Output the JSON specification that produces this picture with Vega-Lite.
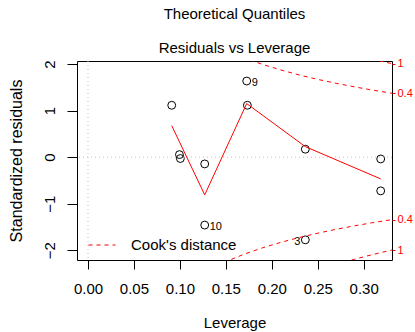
{
  "$schema": "https://vega.github.io/schema/vega-lite/v6.json",
  "width": 315,
  "height": 199,
  "autosize": {"type": "none"},
  "padding": {"left": 77, "top": 61, "right": 23, "bottom": 72},
  "background": "white",
  "config": {
    "font": "Liberation Sans",
    "view": {"stroke": "#000", "strokeWidth": 1},
    "axis": {"labelFont": "Liberation Sans", "titleFont": "Liberation Sans", "labelColor": "#000", "titleColor": "#000", "tickColor": "#000", "grid": false, "domain": false, "titleFontWeight": "normal"},
    "axisX": {"values": [0, 0.05, 0.1, 0.15, 0.2, 0.25, 0.3], "format": ".2f", "tickSize": 9, "labelPadding": 12, "labelFontSize": 15, "titleFontSize": 15, "titlePadding": 19, "labelFlush": false, "labelOverlap": false}
  },
  "title": {
    "text": "Theoretical Quantiles",
    "subtitle": "Residuals vs Leverage",
    "fontSize": 15,
    "subtitleFontSize": 15,
    "fontWeight": "normal",
    "color": "#000",
    "subtitleColor": "#000",
    "font": "Liberation Sans",
    "subtitleFont": "Liberation Sans",
    "anchor": "middle",
    "subtitlePadding": 19,
    "offset": 2
  },
  "datasets": {
    "pts": [
      {"lev": 0.0911, "res": 1.114, "label": ""},
      {"lev": 0.0995, "res": 0.054, "label": ""},
      {"lev": 0.1005, "res": -0.03, "label": ""},
      {"lev": 0.127, "res": -0.146, "label": ""},
      {"lev": 0.127, "res": -1.46, "label": "10", "side": "R"},
      {"lev": 0.1727, "res": 1.635, "label": "9", "side": "R"},
      {"lev": 0.1734, "res": 1.114, "label": ""},
      {"lev": 0.2365, "res": 0.17, "label": ""},
      {"lev": 0.2365, "res": -1.777, "label": "3", "side": "L"},
      {"lev": 0.3185, "res": -0.039, "label": ""},
      {"lev": 0.3185, "res": -0.725, "label": ""}
    ],
    "smooth": [
      {"lev": 0.0911, "res": 0.676},
      {"lev": 0.127, "res": -0.81},
      {"lev": 0.1727, "res": 1.15},
      {"lev": 0.2365, "res": 0.225},
      {"lev": 0.3185, "res": -0.468}
    ],
    "cook": [
      {"lev": 0.16, "res": 2.21, "curve": "u04", "series": "Cook's distance"},
      {"lev": 0.17, "res": 2.131, "curve": "u04", "series": "Cook's distance"},
      {"lev": 0.19, "res": 1.991, "curve": "u04", "series": "Cook's distance"},
      {"lev": 0.21, "res": 1.871, "curve": "u04", "series": "Cook's distance"},
      {"lev": 0.23, "res": 1.764, "curve": "u04", "series": "Cook's distance"},
      {"lev": 0.25, "res": 1.67, "curve": "u04", "series": "Cook's distance"},
      {"lev": 0.27, "res": 1.586, "curve": "u04", "series": "Cook's distance"},
      {"lev": 0.29, "res": 1.509, "curve": "u04", "series": "Cook's distance"},
      {"lev": 0.31, "res": 1.439, "curve": "u04", "series": "Cook's distance"},
      {"lev": 0.3308, "res": 1.372, "curve": "u04", "series": "Cook's distance"},
      {"lev": 0.14, "res": -2.338, "curve": "l04", "series": "Cook's distance"},
      {"lev": 0.15, "res": -2.246, "curve": "l04", "series": "Cook's distance"},
      {"lev": 0.17, "res": -2.084, "curve": "l04", "series": "Cook's distance"},
      {"lev": 0.19, "res": -1.948, "curve": "l04", "series": "Cook's distance"},
      {"lev": 0.21, "res": -1.83, "curve": "l04", "series": "Cook's distance"},
      {"lev": 0.23, "res": -1.726, "curve": "l04", "series": "Cook's distance"},
      {"lev": 0.25, "res": -1.634, "curve": "l04", "series": "Cook's distance"},
      {"lev": 0.27, "res": -1.551, "curve": "l04", "series": "Cook's distance"},
      {"lev": 0.29, "res": -1.476, "curve": "l04", "series": "Cook's distance"},
      {"lev": 0.31, "res": -1.407, "curve": "l04", "series": "Cook's distance"},
      {"lev": 0.3308, "res": -1.343, "curve": "l04", "series": "Cook's distance"},
      {"lev": 0.3, "res": 2.155, "curve": "u1", "series": "Cook's distance"},
      {"lev": 0.31, "res": 2.105, "curve": "u1", "series": "Cook's distance"},
      {"lev": 0.32, "res": 2.056, "curve": "u1", "series": "Cook's distance"},
      {"lev": 0.3308, "res": 2.007, "curve": "u1", "series": "Cook's distance"},
      {"lev": 0.27, "res": -2.306, "curve": "l1", "series": "Cook's distance"},
      {"lev": 0.28, "res": -2.249, "curve": "l1", "series": "Cook's distance"},
      {"lev": 0.29, "res": -2.195, "curve": "l1", "series": "Cook's distance"},
      {"lev": 0.3, "res": -2.142, "curve": "l1", "series": "Cook's distance"},
      {"lev": 0.31, "res": -2.092, "curve": "l1", "series": "Cook's distance"},
      {"lev": 0.32, "res": -2.045, "curve": "l1", "series": "Cook's distance"},
      {"lev": 0.3308, "res": -1.996, "curve": "l1", "series": "Cook's distance"}
    ]
  },
  "resolve": {"axis": {"y": "independent"}},
  "layer": [
    {
      "data": {"name": "pts"},
      "mark": {"type": "point", "shape": "circle", "filled": false, "stroke": "#000", "strokeWidth": 1, "size": 62, "opacity": 1},
      "encoding": {
        "x": {"field": "lev", "type": "quantitative", "scale": {"domain": [-0.01197, 0.3308], "nice": false, "zero": false},
          "axis": {"title": "Leverage"}},
        "y": {"field": "res", "type": "quantitative", "scale": {"domain": [-2.21, 2.065], "nice": false, "zero": false},
          "axis": {"orient": "left", "values": [-2, -1, 0, 1, 2], "format": "d", "tickSize": 10, "labelAngle": -90, "labelAlign": "center", "labelBaseline": "bottom", "labelPadding": 10, "labelFontSize": 15, "title": "Standardized residuals", "titleFontSize": 16, "titlePadding": 18, "labelFlush": false, "labelOverlap": false}}
      }
    },
    {
      "data": {"values": [{"v": 0}]},
      "mark": {"type": "rule", "color": "#bebebe", "strokeDash": [1, 3], "strokeWidth": 1},
      "encoding": {"y": {"field": "v", "type": "quantitative", "axis": null}}
    },
    {
      "data": {"values": [{"v": 0}]},
      "mark": {"type": "rule", "color": "#bebebe", "strokeDash": [1, 3], "strokeWidth": 1},
      "encoding": {"x": {"field": "v", "type": "quantitative"}}
    },
    {
      "data": {"name": "pts"},
      "transform": [{"filter": "datum.side == 'R'"}],
      "mark": {"type": "text", "align": "left", "baseline": "middle", "dx": 5, "dy": 1.5, "fontSize": 11, "color": "#000"},
      "encoding": {
        "x": {"field": "lev", "type": "quantitative"},
        "y": {"field": "res", "type": "quantitative", "axis": null},
        "text": {"field": "label"}
      }
    },
    {
      "data": {"name": "pts"},
      "transform": [{"filter": "datum.side == 'L'"}],
      "mark": {"type": "text", "align": "right", "baseline": "middle", "dx": -5, "dy": 2, "fontSize": 11, "color": "#000"},
      "encoding": {
        "x": {"field": "lev", "type": "quantitative"},
        "y": {"field": "res", "type": "quantitative", "axis": null},
        "text": {"field": "label"}
      }
    },
    {
      "data": {"name": "smooth"},
      "mark": {"type": "line", "color": "red", "strokeWidth": 1, "clip": true},
      "encoding": {
        "x": {"field": "lev", "type": "quantitative"},
        "y": {"field": "res", "type": "quantitative", "axis": null}
      }
    },
    {
      "data": {"name": "cook"},
      "mark": {"type": "line", "strokeWidth": 1, "strokeDash": [4, 4], "clip": true},
      "encoding": {
        "x": {"field": "lev", "type": "quantitative"},
        "y": {"field": "res", "type": "quantitative",
          "axis": {"orient": "right", "values": [2.007, 1.372, -1.343, -1.996], "labelExpr": "abs(datum.value) > 1.7 ? '1' : '0.4'", "labelColor": "red", "labelFontSize": 11, "tickColor": "red", "tickSize": 3, "labelPadding": 2, "title": null, "labelFlush": false, "labelOverlap": false, "labelBaseline": "middle"}},
        "detail": {"field": "curve"},
        "color": {"field": "series", "type": "nominal", "scale": {"domain": ["Cook's distance"], "range": ["red"]},
          "legend": {"title": null, "orient": "none", "legendX": 11, "legendY": 170, "symbolType": "stroke", "symbolSize": 729, "symbolDash": [4, 4], "symbolStrokeWidth": 1, "symbolStrokeColor": "red", "labelFontSize": 15, "labelFont": "Liberation Sans", "labelColor": "#000", "labelOffset": 15, "padding": 0}}
      }
    }
  ]
}
